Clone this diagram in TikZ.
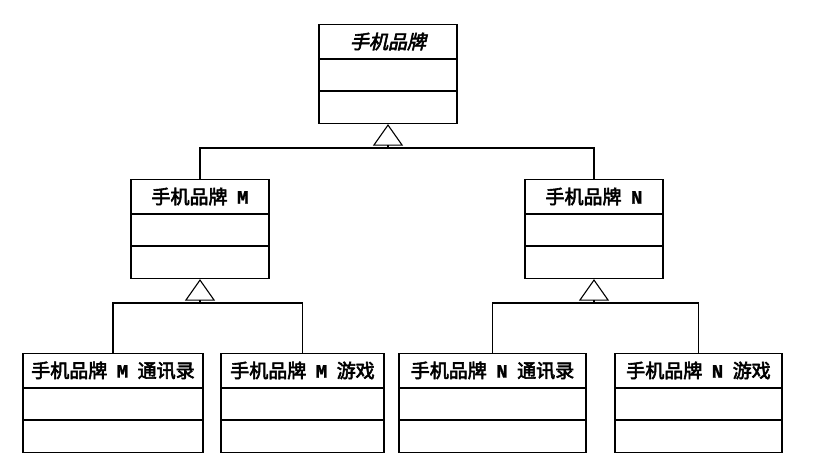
\documentclass[tikz,border=0pt]{standalone}
\usepackage{fontspec}
\newfontfamily\cjk{Noto Sans CJK SC}[FakeBold=3]
\newfontfamily\cjkit{Noto Sans CJK SC}[FakeBold=3, FakeSlant=0.22]
\newfontfamily\ltrfont{Liberation Mono}[FakeBold=1]
\usetikzlibrary{arrows.meta}

% class box: name, centre x, top y, width, title
\newcommand{\umlclass}[5]{%
  \node[classbox, minimum width=#4pt, anchor=north] (#1) at (#2,#3) {};
  \draw ([yshift=-35pt]#1.north west) -- ([yshift=-35pt]#1.north east);
  \draw ([yshift=-67pt]#1.north west) -- ([yshift=-67pt]#1.north east);
  \node[classname] (#1-name) at ([yshift=-17.5pt]#1.north) {#5};
}
\newcommand{\ltr}[1]{{\ltrfont\bfseries #1}}

\begin{document}
\begin{tikzpicture}[x=1pt, y=-1pt, line width=1.1pt,
    classbox/.style={draw, inner sep=0pt, minimum height=99pt},
    classname/.style={inner sep=0pt, font=\cjk\fontsize{19}{22}\selectfont},
    inherit/.style={-{Triangle[open, length=21.5pt, width=30pt]}}]
  \useasboundingbox (0,0) rectangle (824,472);

  \umlclass{brand}{388}{24}{138}{{\cjkit 手机品牌}}
  \umlclass{M}{200}{179}{138}{手机品牌\enspace\ltr{M}}
  \umlclass{N}{594}{179}{138}{手机品牌\enspace\ltr{N}}
  \umlclass{MC}{113}{353}{180}{手机品牌\enspace\ltr{M}\enspace 通讯录}
  \umlclass{MG}{302.5}{353}{163}{手机品牌\enspace\ltr{M}\enspace 游戏}
  \umlclass{NC}{492.5}{353}{187}{手机品牌\enspace\ltr{N}\enspace 通讯录}
  \umlclass{NG}{698.5}{353}{167}{手机品牌\enspace\ltr{N}\enspace 游戏}

  \coordinate (brand-join) at (388,148);
  \coordinate (M-join) at (200,303);
  \coordinate (N-join) at (594,303);

  \draw (M.north) |- (brand-join) -| (N.north);
  \draw[inherit] (brand-join) -- (brand.south);
  \draw (MC.north) |- (M-join) -| (MG.north);
  \draw[inherit] (M-join) -- (M.south);
  \draw (NC.north) |- (N-join) -| (NG.north);
  \draw[inherit] (N-join) -- (N.south);
\end{tikzpicture}
\end{document}
